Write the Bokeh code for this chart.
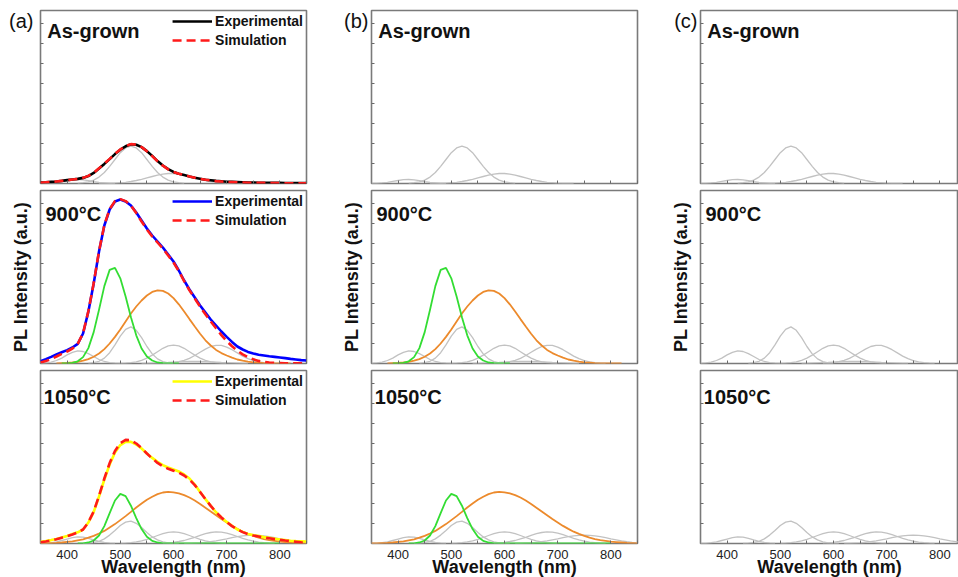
from bokeh.plotting import figure
from bokeh.models import Range1d, FixedTicker, Legend, LegendItem, Label
from bokeh.layouts import gridplot
from bokeh.embed import file_html
from bokeh.resources import INLINE

# ---------------- data ----------------
WL = [350, 360, 370, 380, 390, 400, 410, 420, 430, 440, 450, 460, 470, 480, 490,
      500, 510, 520, 530, 540, 550, 560, 570, 580, 590, 600, 610, 620, 630, 640,
      650, 660, 670, 680, 690, 700, 710, 720, 730, 740, 750, 760, 770, 780, 790,
      800, 810, 820, 830, 840, 850]

X_TICKS = [400, 500, 600, 700, 800]
X_MINOR = [450, 550, 650, 750, 850]
X_ALL = [400, 450, 500, 550, 600, 650, 700, 750, 800, 850]
Y_MARKS = [1, 2, 3, 4, 5, 6, 7, 8]

ROW_TITLES = ["As-grown", "900°C", "1050°C"]
COL_TAGS = ["(a)", "(b)", "(c)"]
X_TITLE = "Wavelength (nm)"
Y_TITLE = "PL Intensity (a.u.)"
LEGEND_LABELS = ["Experimental", "Simulation"]

# As-grown
AG_EXP = [0.05, 0.06, 0.08, 0.10, 0.13, 0.17, 0.20, 0.23, 0.28, 0.37, 0.53, 0.75, 0.98, 1.22, 1.47,
          1.69, 1.86, 1.96, 1.94, 1.82, 1.62, 1.38, 1.12, 0.90, 0.72, 0.58, 0.49, 0.42, 0.35, 0.29,
          0.24, 0.19, 0.16, 0.13, 0.11, 0.09, 0.08, 0.07, 0.06, 0.05, 0.05, 0.04, 0.04, 0.03, 0.03,
          0.03, 0.02, 0.02, 0.02, 0.02, 0.02]
AG_SIM = [0.04, 0.06, 0.08, 0.10, 0.13, 0.16, 0.20, 0.23, 0.28, 0.38, 0.54, 0.76, 0.99, 1.23, 1.48,
          1.70, 1.87, 1.97, 1.95, 1.82, 1.61, 1.37, 1.11, 0.89, 0.71, 0.58, 0.49, 0.42, 0.35, 0.29,
          0.23, 0.19, 0.15, 0.12, 0.10, 0.08, 0.07, 0.06, 0.05, 0.04, 0.04, 0.03, 0.03, 0.02, 0.02,
          0.02, 0.01, 0.01, 0.01, 0.01, 0.01]
AG_C1_START = 350
AG_C1 = [0.00, 0.01, 0.03, 0.06, 0.11, 0.15, 0.19, 0.20, 0.18, 0.14, 0.09, 0.05, 0.03, 0.01, 0.00]
AG_C2_START = 420
AG_C2 = [0.01, 0.04, 0.08, 0.17, 0.32, 0.55, 0.86, 1.20, 1.54, 1.78, 1.87, 1.78, 1.54, 1.20, 0.86,
         0.55, 0.32, 0.17, 0.08, 0.04, 0.01]
AG_C3_START = 460
AG_C3 = [0.00, 0.01, 0.01, 0.02, 0.04, 0.06, 0.10, 0.15, 0.21, 0.28, 0.35, 0.42, 0.47, 0.50, 0.50,
         0.47, 0.42, 0.35, 0.28, 0.21, 0.15, 0.10, 0.06, 0.04, 0.02, 0.01, 0.01, 0.00]

# 900 C
T9_EXP = [0.12, 0.22, 0.33, 0.45, 0.56, 0.67, 0.80, 0.98, 1.50, 2.60, 4.00, 5.60, 6.90, 7.70, 8.10,
          8.20, 8.10, 7.90, 7.55, 7.15, 6.75, 6.40, 6.10, 5.80, 5.45, 5.10, 4.65, 4.15, 3.70, 3.30,
          2.90, 2.55, 2.20, 1.90, 1.60, 1.33, 1.08, 0.85, 0.70, 0.58, 0.50, 0.44, 0.40, 0.36, 0.33,
          0.30, 0.27, 0.23, 0.20, 0.17, 0.15]
T9_SIM = [0.05, 0.12, 0.22, 0.35, 0.48, 0.60, 0.75, 0.98, 1.52, 2.62, 4.02, 5.62, 6.92, 7.72, 8.12,
          8.22, 8.12, 7.90, 7.52, 7.10, 6.70, 6.35, 6.05, 5.75, 5.40, 5.05, 4.62, 4.12, 3.66, 3.25,
          2.84, 2.46, 2.10, 1.76, 1.42, 1.12, 0.86, 0.64, 0.46, 0.32, 0.21, 0.13, 0.08, 0.05, 0.03,
          0.02, 0.01, 0.01, 0.01, 0.01, 0.01]
T9_C1_START = 350
T9_C1 = [0.01, 0.03, 0.07, 0.15, 0.27, 0.43, 0.56, 0.63, 0.60, 0.49, 0.35, 0.20, 0.10, 0.04, 0.02, 0.01]
T9_C2_START = 440
T9_C2 = [0.01, 0.04, 0.11, 0.27, 0.54, 0.93, 1.37, 1.71, 1.83, 1.66, 1.29, 0.85, 0.48, 0.23, 0.09,
         0.03, 0.01]
T9_C3_START = 500
T9_C3 = [0.01, 0.02, 0.04, 0.08, 0.16, 0.27, 0.42, 0.59, 0.76, 0.88, 0.92, 0.88, 0.76, 0.59, 0.42,
         0.27, 0.16, 0.08, 0.04, 0.02, 0.01]
T9_C4_START = 580
T9_C4 = [0.01, 0.02, 0.04, 0.09, 0.16, 0.26, 0.40, 0.56, 0.72, 0.85, 0.91, 0.91, 0.82, 0.69, 0.53,
         0.37, 0.24, 0.14, 0.08, 0.04, 0.02, 0.01]
T9_C5_START = 540
T9_C5 = [0.01, 0.01, 0.02, 0.03, 0.04, 0.05, 0.07, 0.08, 0.09, 0.10, 0.10, 0.10, 0.09, 0.08, 0.07,
         0.05, 0.04, 0.03, 0.02, 0.01, 0.01]
T9_GREEN_START = 390
T9_GREEN = [0.00, 0.01, 0.03, 0.11, 0.32, 0.77, 1.57, 2.69, 3.87, 4.68, 4.78, 4.26, 3.35, 2.31, 1.41,
            0.75, 0.35, 0.15, 0.05, 0.02, 0.01, 0.00, 0.00]
T9_ORANGE_START = 380
T9_ORANGE = [0.01, 0.02, 0.03, 0.05, 0.08, 0.14, 0.22, 0.34, 0.50, 0.72, 1.00, 1.33, 1.70, 2.10, 2.50,
             2.85, 3.15, 3.40, 3.58, 3.66, 3.63, 3.50, 3.27, 2.96, 2.60, 2.22, 1.85, 1.49, 1.16, 0.90,
             0.68, 0.52, 0.40, 0.29, 0.20, 0.14, 0.09, 0.06, 0.04, 0.02, 0.01, 0.01, 0.00, 0.00, 0.00]

# 1050 C
T10_EXP = [0.08, 0.12, 0.17, 0.23, 0.30, 0.38, 0.47, 0.56, 0.70, 1.05, 1.58, 2.35, 3.20, 3.95, 4.55,
           4.92, 5.08, 5.08, 4.95, 4.75, 4.50, 4.28, 4.08, 3.92, 3.80, 3.70, 3.60, 3.45, 3.25, 2.95,
           2.58, 2.22, 1.88, 1.56, 1.30, 1.08, 0.88, 0.70, 0.58, 0.48, 0.42, 0.37, 0.32, 0.28, 0.24,
           0.20, 0.17, 0.14, 0.12, 0.11, 0.10]
T10_SIM = [0.06, 0.10, 0.15, 0.21, 0.29, 0.37, 0.45, 0.55, 0.70, 1.06, 1.60, 2.38, 3.25, 4.02, 4.63,
           5.02, 5.18, 5.16, 5.00, 4.77, 4.50, 4.25, 4.03, 3.86, 3.74, 3.64, 3.54, 3.40, 3.20, 2.92,
           2.58, 2.22, 1.88, 1.57, 1.30, 1.07, 0.87, 0.70, 0.57, 0.47, 0.40, 0.35, 0.30, 0.26, 0.22,
           0.19, 0.15, 0.12, 0.09, 0.06, 0.04]
T10_C1_START = 350
T10_C1 = [0.01, 0.01, 0.04, 0.08, 0.15, 0.22, 0.29, 0.33, 0.32, 0.26, 0.18, 0.11, 0.05, 0.02, 0.01]
T10_C2_START = 430
T10_C2 = [0.01, 0.02, 0.05, 0.11, 0.23, 0.42, 0.65, 0.90, 1.07, 1.12, 1.01, 0.80, 0.55, 0.33, 0.18,
          0.08, 0.03, 0.01, 0.00]
T10_C3_START = 500
T10_C3 = [0.01, 0.02, 0.04, 0.08, 0.13, 0.21, 0.30, 0.40, 0.49, 0.56, 0.58, 0.56, 0.49, 0.40, 0.30,
          0.21, 0.13, 0.08, 0.04, 0.02, 0.01]
T10_C4_START = 580
T10_C4 = [0.02, 0.03, 0.06, 0.10, 0.15, 0.23, 0.31, 0.41, 0.49, 0.55, 0.58, 0.57, 0.52, 0.44, 0.35,
          0.26, 0.18, 0.12, 0.07, 0.04, 0.02, 0.01]
T10_C5_START = 620
T10_C5 = [0.01, 0.01, 0.02, 0.03, 0.06, 0.09, 0.13, 0.18, 0.23, 0.29, 0.34, 0.38, 0.41, 0.42, 0.41,
          0.38, 0.34, 0.29, 0.23, 0.18, 0.13, 0.09, 0.06, 0.04]
T10_GREEN_START = 420
T10_GREEN = [0.00, 0.01, 0.05, 0.15, 0.40, 0.87, 1.52, 2.15, 2.48, 2.37, 1.89, 1.27, 0.72, 0.34, 0.13,
             0.05, 0.01, 0.00, 0.00, 0.00, 0.00, 0.00, 0.00, 0.00, 0.00, 0.00, 0.00, 0.00, 0.00, 0.00,
             0.00, 0.00, 0.00, 0.00, 0.00, 0.00, 0.00, 0.00, 0.00]
T10_ORANGE_START = 350
T10_ORANGE = [0.01, 0.01, 0.02, 0.03, 0.05, 0.08, 0.11, 0.16, 0.21, 0.29, 0.38, 0.50, 0.63, 0.80, 0.97,
              1.17, 1.37, 1.58, 1.80, 2.00, 2.19, 2.34, 2.47, 2.55, 2.58, 2.56, 2.51, 2.42, 2.30, 2.15,
              1.98, 1.79, 1.60, 1.41, 1.22, 1.05, 0.88, 0.73, 0.59, 0.48, 0.38, 0.29, 0.22, 0.17, 0.13,
              0.09, 0.07, 0.05, 0.03, 0.02, 0.01]

# ---------------- style / geometry ----------------
FONT = "Liberation Sans"
FRAME_COLOR = "#7a7a7a"
TICK_COLOR = "#6a6a6a"
TEXT_COLOR = "#111111"
GRAY = "#c2c2c2"
GREEN = "#33dd33"
ORANGE = "#ec8a2c"
RED = "#ff1a1a"
EXP_COLORS = ["#000000", "#0000ff", "#ffff00"]

FRAME_W = 266
FRAME_W_C = 258
FRAME_H = 173
PX_PER_NM = FRAME_W / 500.0
Y_MAX = FRAME_H / 20.0
LEFT_B = [40, 61, 59]
RIGHT_B = [4, 4, 0]
TOP_B = [10, 4, 4]
BOTTOM_B = [3, 3, 34]
TITLE_POS = [(6.7, 20.7), (5.0, 23.3), (3.3, 26.7)]  # px from frame left, baseline px below frame top
TAG_STANDOFF = [7, 3, 3]
TAG_Y = 8.125


def xs_for(start, vals):
    i = WL.index(start)
    return WL[i:i + len(vals)]


def dx(px):
    return 350 + px / PX_PER_NM


def dy_top(px):
    return Y_MAX - px / 20.0


GRAYS = [
    [(AG_C1_START, AG_C1), (AG_C2_START, AG_C2), (AG_C3_START, AG_C3)],
    [(T9_C1_START, T9_C1), (T9_C5_START, T9_C5), (T9_C2_START, T9_C2), (T9_C3_START, T9_C3),
     (T9_C4_START, T9_C4)],
    [(T10_C1_START, T10_C1), (T10_C2_START, T10_C2), (T10_C3_START, T10_C3), (T10_C4_START, T10_C4),
     (T10_C5_START, T10_C5)],
]
GREENS = [None, (T9_GREEN_START, T9_GREEN), (T10_GREEN_START, T10_GREEN)]
ORANGES = [None, (T9_ORANGE_START, T9_ORANGE), (T10_ORANGE_START, T10_ORANGE)]
EXPS = [AG_EXP, T9_EXP, T10_EXP]
SIMS = [AG_SIM, T9_SIM, T10_SIM]


def style_ticks(ax):
    ax.axis_line_color = None
    ax.major_tick_in = 3
    ax.major_tick_out = 0
    ax.minor_tick_in = 3
    ax.minor_tick_out = 0
    ax.major_tick_line_color = TICK_COLOR
    ax.minor_tick_line_color = TICK_COLOR
    ax.major_label_standoff = 0


def make_panel(col, row):
    fw = FRAME_W if col < 2 else FRAME_W_C
    p = figure(frame_width=fw, frame_height=FRAME_H,
               x_range=Range1d(350, 350 + fw / PX_PER_NM), y_range=Range1d(0, Y_MAX),
               min_border_left=LEFT_B[col], min_border_right=RIGHT_B[col],
               min_border_top=TOP_B[row], min_border_bottom=BOTTOM_B[row],
               output_backend="svg", toolbar_location=None, tools="")
    p.outline_line_color = FRAME_COLOR
    p.outline_line_width = 1.6
    p.grid.visible = False
    p.background_fill_color = "white"
    p.border_fill_color = "white"

    xa = p.xaxis[0]
    style_ticks(xa)
    if row == 2:
        xa.ticker = FixedTicker(ticks=X_TICKS, minor_ticks=X_MINOR)
        xa.major_label_text_font = FONT
        xa.major_label_text_font_size = "13px"
        xa.major_label_text_color = "#222222"
        xa.major_label_standoff = 6
        xa.axis_label = X_TITLE
        xa.axis_label_text_font = FONT
        xa.axis_label_text_font_size = "18px"
        xa.axis_label_text_font_style = "bold"
        xa.axis_label_text_color = TEXT_COLOR
        xa.axis_label_standoff = -5
    else:
        xa.ticker = FixedTicker(ticks=[], minor_ticks=X_ALL)

    ya = p.yaxis[0]
    style_ticks(ya)
    if row == 0:
        ya.ticker = FixedTicker(ticks=[TAG_Y], minor_ticks=Y_MARKS)
        ya.major_tick_line_color = None
        ya.major_label_overrides = {TAG_Y: COL_TAGS[col]}
        ya.major_label_text_font = FONT
        ya.major_label_text_font_size = "20px"
        ya.major_label_text_color = TEXT_COLOR
        ya.major_label_standoff = TAG_STANDOFF[col]
    else:
        ya.ticker = FixedTicker(ticks=[], minor_ticks=Y_MARKS)
    if row == 1:
        ya.axis_label = Y_TITLE
        ya.axis_label_text_font = FONT
        ya.axis_label_text_font_size = "18px"
        ya.axis_label_text_font_style = "bold"
        ya.axis_label_text_color = TEXT_COLOR
        ya.axis_label_standoff = 10

    # components
    for start, vals in GRAYS[row]:
        p.line(xs_for(start, vals), vals, line_color=GRAY, line_width=1.3)
    if col < 2 and ORANGES[row] is not None:
        s, v = ORANGES[row]
        p.line(xs_for(s, v), v, line_color=ORANGE, line_width=1.8)
    if col < 2 and GREENS[row] is not None:
        s, v = GREENS[row]
        p.line(xs_for(s, v), v, line_color=GREEN, line_width=1.8)

    if col == 0:
        r_exp = p.line(WL, EXPS[row], line_color=EXP_COLORS[row], line_width=2.6)
        r_sim = p.line(WL, SIMS[row], line_color=RED, line_width=2.6, line_dash="9 5")
        legend = Legend(items=[LegendItem(label=LEGEND_LABELS[0], renderers=[r_exp]),
                               LegendItem(label=LEGEND_LABELS[1], renderers=[r_sim])],
                        location="top_right", border_line_color=None, background_fill_alpha=0,
                        label_text_font=FONT, label_text_font_style="bold",
                        label_text_font_size="14px", label_text_color=TEXT_COLOR,
                        glyph_width=40, glyph_height=16, label_height=16,
                        spacing=3, padding=0, margin=3, label_standoff=3)
        p.add_layout(legend)

    tx, ty = TITLE_POS[row]
    p.add_layout(Label(x=dx(tx), y=dy_top(ty), text=ROW_TITLES[row], text_font=FONT,
                       text_font_size="20px", text_font_style="bold", text_color=TEXT_COLOR,
                       text_align="left", text_baseline="alphabetic"))
    return p


grid = [[make_panel(c, r) for c in range(3)] for r in range(3)]
layout = gridplot(grid, toolbar_location=None)

open("out.html", "w").write(file_html(layout, INLINE))
